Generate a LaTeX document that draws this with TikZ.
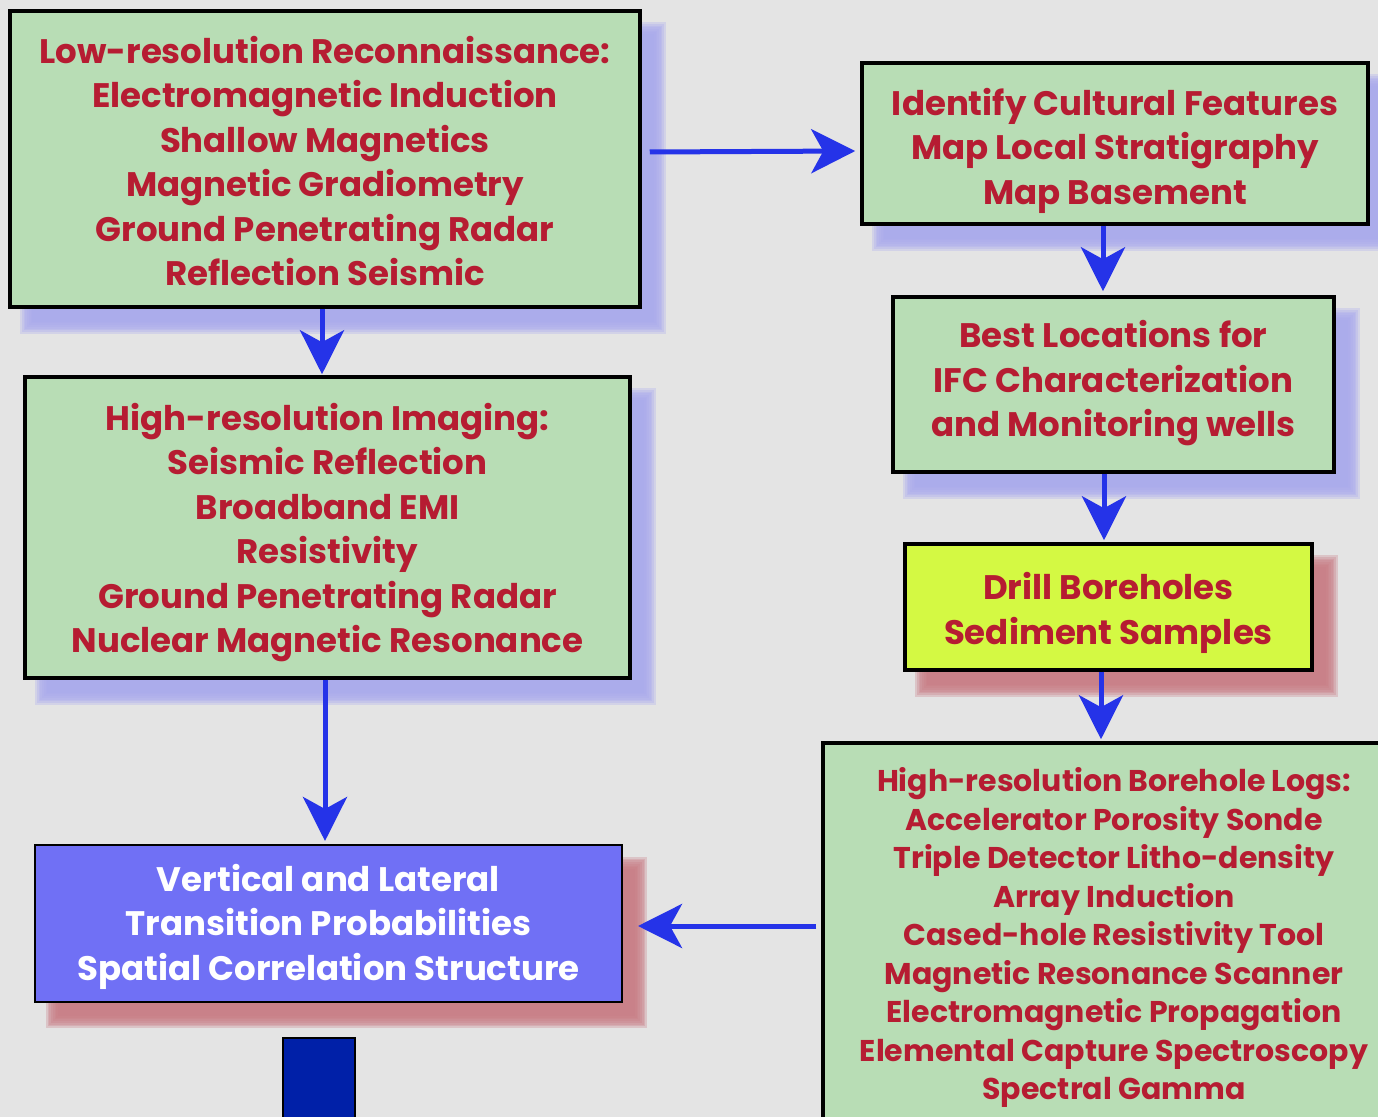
\documentclass[tikz,border=0pt]{standalone}
\usepackage{fontspec}
\setmainfont{Poppins}
\usetikzlibrary{arrows.meta,calc,backgrounds}
\definecolor{bgc}{HTML}{E4E4E4}
\definecolor{boxgreen}{HTML}{B8DDB5}
\definecolor{boxyellow}{HTML}{D4F943}
\definecolor{boxblue}{HTML}{7070F5}
\definecolor{darkblue}{HTML}{0020A8}
\definecolor{txtred}{RGB}{182,28,50}
\definecolor{arrblue}{HTML}{2533E8}
\definecolor{shblue}{HTML}{A9AAEE}
\definecolor{shred}{HTML}{C97D85}
\newcommand\mkshadow[2]{%
  \foreach \k in {0,...,7}{%
    \pgfmathsetmacro\dd{(\k-3.5)*1.7}%
    \fill[#2, opacity=0.3] ($(#1.north west)+(18+\dd,19+\dd)$) rectangle ($(#1.south east)+(18-\dd,19-\dd)$);
  }%
}
\begin{document}
\begin{tikzpicture}[x=0.5pt,y=-0.5pt,
  box/.style={draw=black, line width=1.75pt, fill=boxgreen, inner sep=0pt},
  lbl/.style={text=txtred, align=center, inner sep=0pt, font=\bfseries\fontsize{17}{22.25}\selectfont},
  slbl/.style={lbl, font=\bfseries\fontsize{15}{19.25}\selectfont},
  arr/.style={draw=arrblue, line width=2.5pt, -{Stealth[length=22pt,width=22pt,inset=6pt]}},
]
\useasboundingbox (0,0) rectangle (1378,1117);

\node[box, minimum width=315pt, minimum height=148pt,
  label={[lbl, yshift=-1pt]center:Low-resolution Reconnaissance:\\Electromagnetic Induction\\Shallow Magnetics\\Magnetic Gradiometry\\Ground Penetrating Radar\\Reflection Seismic}] (A) at (325,159) {};
\node[box, minimum width=253pt, minimum height=80.5pt,
  label={[lbl, yshift=-3.5pt]center:Identify Cultural Features\\Map Local Stratigraphy\\Map Basement}] (B) at (1115,143.5) {};
\node[box, minimum width=220.5pt, minimum height=87.5pt,
  label={[lbl, yshift=0.5pt]center:Best Locations for\\IFC Characterization\\and Monitoring wells}] (C) at (1113.5,384.5) {};
\node[box, fill=boxyellow, minimum width=203.5pt, minimum height=63pt,
  label={[lbl, yshift=-3pt]center:Drill Boreholes\\Sediment Samples}] (D) at (1108.5,607) {};
\node[box, minimum width=302.5pt, minimum height=150.5pt,
  label={[lbl, yshift=-2.5pt]center:High-resolution Imaging:\\Seismic Reflection\\Broadband EMI\\Resistivity\\Ground Penetrating Radar\\Nuclear Magnetic Resonance}] (E) at (327.5,527.5) {};
\node[box, fill=boxblue, line width=1pt, minimum width=293.5pt, minimum height=78.5pt,
  label={[lbl, text=white, yshift=-1.5pt]center:Vertical and Lateral\\Transition Probabilities\\Spatial Correlation Structure}] (F) at (328.5,923.5) {};
\node[box, minimum width=291pt, minimum height=192.5pt,
  label={[slbl, yshift=-1pt]center:High-resolution Borehole Logs:\\Accelerator Porosity Sonde\\Triple Detector Litho-density\\Array Induction\\Cased-hole Resistivity Tool\\Magnetic Resonance Scanner\\Electromagnetic Propagation\\Elemental Capture Spectroscopy\\Spectral Gamma}] (G) at (1114,935.5) {};
\node[draw=black, line width=0.75pt, fill=darkblue, minimum width=36pt, minimum height=46pt, inner sep=0pt] (S) at (319,1084) {};

\begin{scope}[on background layer]
  \fill[bgc] (0,0) rectangle (1378,1117);
  \mkshadow{A}{shblue}
  \mkshadow{B}{shblue}
  \mkshadow{C}{shblue}
  \mkshadow{E}{shblue}
  \mkshadow{D}{shred}
  \mkshadow{F}{shred}
\end{scope}

\draw[arr] ([xshift=4pt,yshift=3.5pt]A.east) -- ([xshift=-2.5pt,yshift=-3.75pt]B.west);
\draw[arr] ([xshift=-1.5pt]A.south) -- ([xshift=-2.75pt,yshift=0.5pt]E.north);
\draw[arr] ([xshift=-6pt]B.south) -- ([xshift=-5.25pt,yshift=2pt]C.north);
\draw[arr] ([xshift=-4.75pt]C.south) -- ([xshift=-2.25pt,yshift=1pt]D.north);
\draw[arr] ([xshift=-3.75pt]D.south) -- ([xshift=-6.5pt,yshift=1pt]G.north);
\draw[arr] ([xshift=-1.25pt]E.south) -- ([xshift=-1.75pt,yshift=1.5pt]F.north);
\draw[arr] ([xshift=-2.5pt,yshift=4.75pt]G.west) -- ([xshift=7.5pt,yshift=-1.25pt]F.east);
\end{tikzpicture}
\end{document}
